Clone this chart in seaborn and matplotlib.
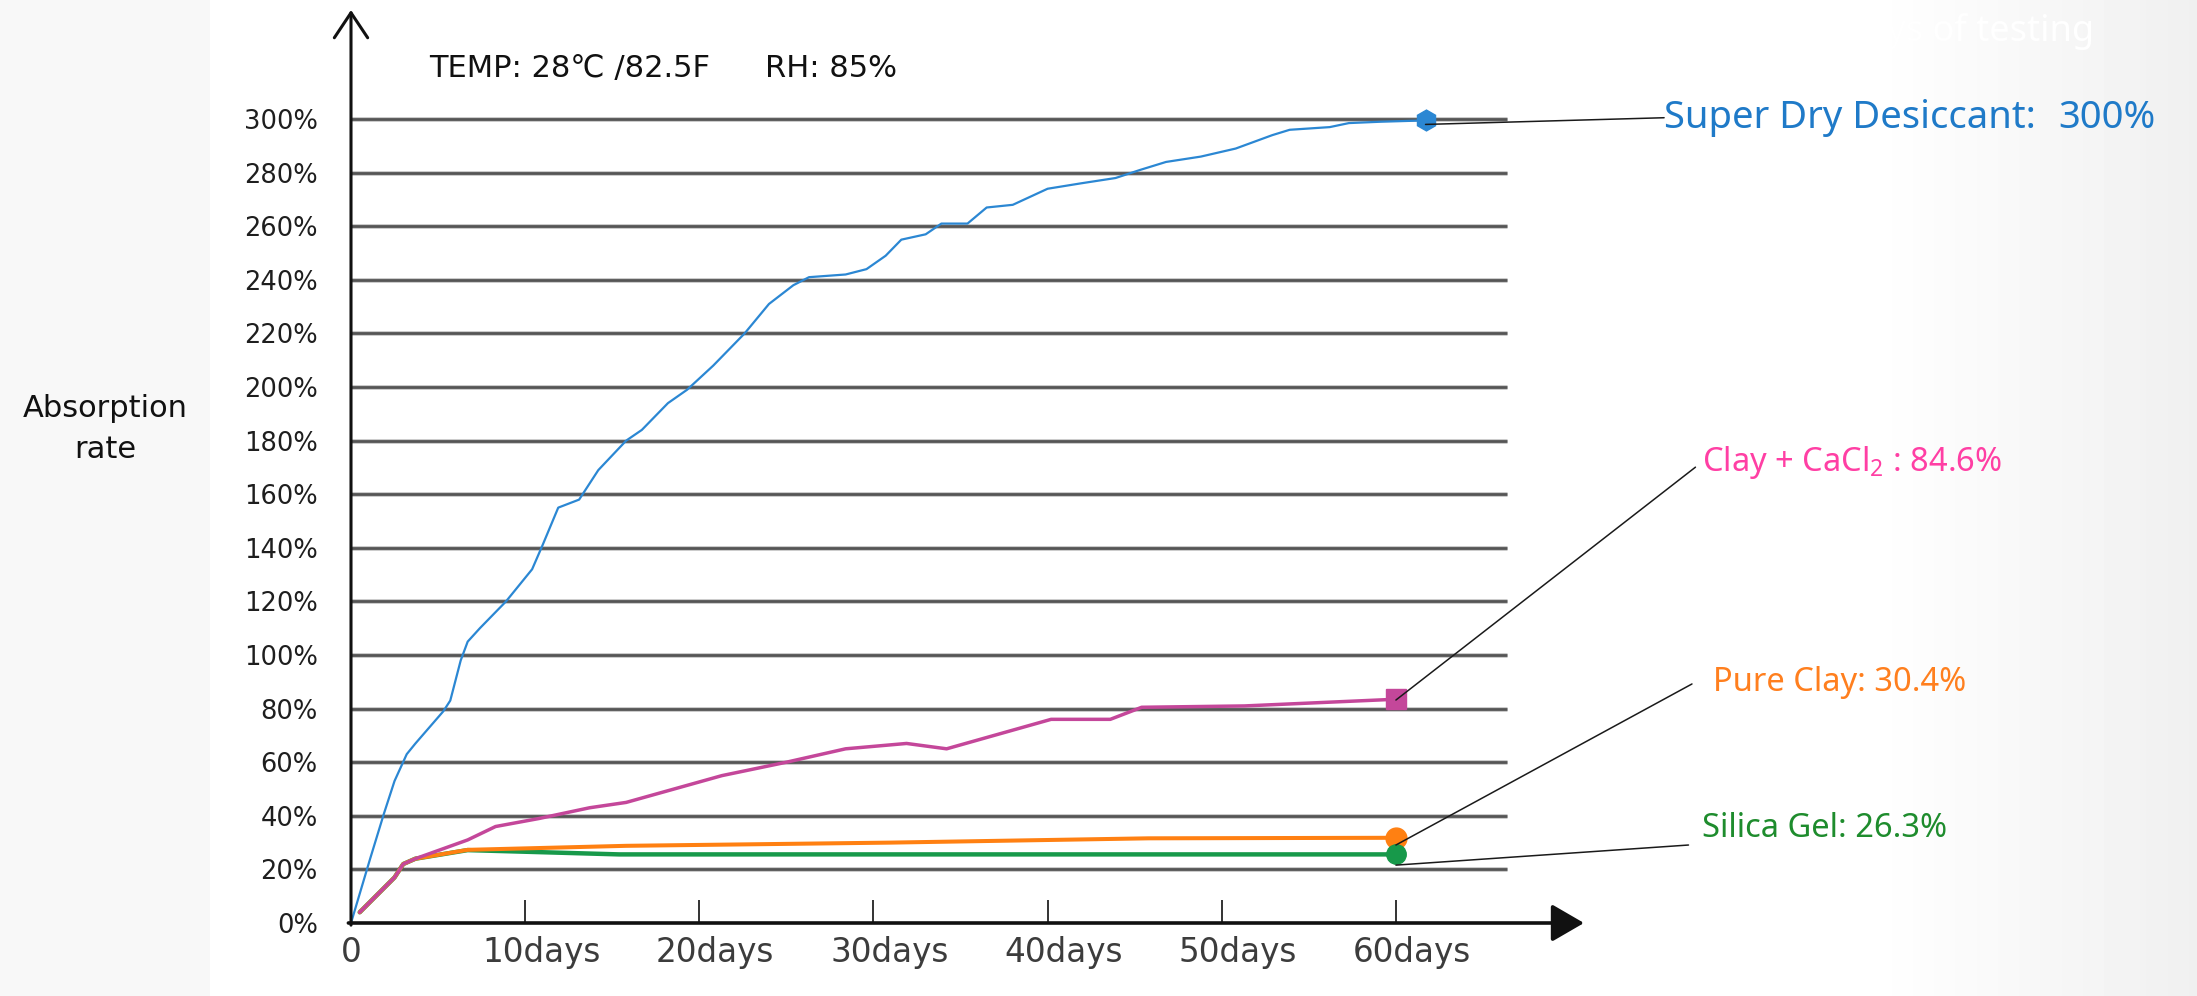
import numpy as np
import matplotlib
matplotlib.use('Agg')
import matplotlib.pyplot as plt
from matplotlib.transforms import ScaledTranslation
import seaborn as sns

sns.set_style('white')
plt.rcParams['font.family'] = ['DejaVu Sans']

# Values (days, absorption %)
super_dry_days = [0, 1.1, 1.9, 2.5, 3.2, 3.7, 5.3, 5.7, 6.3, 6.7, 7.4, 8.9, 10.4, 11.0, 11.9,
                  13.1, 14.2, 15.8, 16.7, 18.2, 19.3, 20.8, 22.6, 24.0, 25.4, 26.3, 28.4, 29.6,
                  30.7, 31.6, 33.0, 33.9, 35.4, 36.5, 38.0, 40.0, 41.9, 43.9, 45.3, 46.8, 48.8,
                  50.8, 52.9, 53.9, 56.2, 57.3, 59.1, 61.7]
super_dry_rate = [0, 24, 41, 53, 63, 67, 79, 83, 98, 105, 110, 120, 132, 141, 155,
                  158, 169, 180, 184, 194, 199, 208, 220, 231, 238, 241, 242, 244,
                  249, 255, 257, 261, 261, 267, 268, 274, 276, 278, 281, 284, 286,
                  289, 294, 296, 297, 298.5, 299, 299.5]

clay_cacl2_days = [0.5, 2.5, 3.0, 3.7, 6.7, 8.3, 10.8, 13.7, 15.8, 21.3, 25.0, 28.4, 31.9,
                   34.2, 40.2, 43.6, 45.4, 51.3, 60.0]
clay_cacl2_rate = [4, 17, 22, 24, 31, 36, 39, 43, 45, 55, 60, 65, 67,
                   65, 76, 76, 80.5, 81, 83.5]

pure_clay_days = [0.5, 2.5, 3.0, 3.7, 6.7, 15.8, 31.0, 45.8, 60.0]
pure_clay_rate = [4, 17, 22, 24, 27.3, 28.8, 30, 31.6, 31.8]

silica_gel_days = [0.5, 2.5, 3.0, 3.7, 6.7, 15.4, 60.0]
silica_gel_rate = [4, 17, 22, 24, 27.2, 25.6, 25.6]

y_ticks = list(range(0, 301, 20))
x_ticks = [0, 10, 20, 30, 40, 50, 60]
x_tick_labels = ['0', '10days', '20days', '30days', '40days', '50days', '60days']

W, H = 2197, 996
fig = plt.figure(figsize=(W / 100, H / 100), dpi=100)

# light grey background bands left and right
bg = fig.add_axes([0, 0, 1, 1], zorder=0)
shade = np.ones(W)
shade[:210] = 0.972
shade[1870:] = np.linspace(1.0, 0.94, W - 1870)
bg.imshow(np.tile(shade, (2, 1)), cmap='gray', vmin=0, vmax=1, extent=[0, 1, 0, 1], aspect='auto')
bg.set_xlim(0, 1)
bg.set_ylim(0, 1)
bg.axis('off')
fig.text(1845 / W, 1 - 32 / H, 'days of testing', color='white', fontsize=26,
         family='Noto Sans', va='center', ha='left')

ax = fig.add_axes([351 / W, 73 / H, 1233 / W, 913 / H], zorder=1)
ax.patch.set_alpha(0)
ax.set_xlim(0, 70.8)
ax.set_ylim(0, 340.7)
for s in ax.spines.values():
    s.set_visible(False)

# horizontal grid lines
ax.hlines(y_ticks[1:], 0, 66.4, color='#cccccc', lw=3.6, zorder=1)
ax.hlines(y_ticks[1:], 0, 66.4, color='#555555', lw=2.0, zorder=1.1)

# axes with arrows
ax.annotate('', xy=(70.8, 0), xytext=(-0.15, 0), annotation_clip=False,
            arrowprops=dict(arrowstyle='-|>,head_length=1.0,head_width=0.58', lw=2.6,
                            color='#111111', mutation_scale=20, shrinkA=0, shrinkB=0), zorder=5)
ax.annotate('', xy=(0, 340.7), xytext=(0, -0.8), annotation_clip=False,
            arrowprops=dict(arrowstyle='->,head_length=0.9,head_width=0.6', lw=2.2,
                            color='#111111', mutation_scale=20, shrinkA=0, shrinkB=0), zorder=5)

# series
blue = '#2b87d3'
pink = '#c4479a'
orange = '#ff8012'
green = '#17994a'
sns.lineplot(x=silica_gel_days, y=silica_gel_rate, color=green, lw=3.2, sort=False, ax=ax, zorder=2)
sns.lineplot(x=pure_clay_days, y=pure_clay_rate, color=orange, lw=2.9, sort=False, ax=ax, zorder=2.1)
sns.lineplot(x=clay_cacl2_days, y=clay_cacl2_rate, color=pink, lw=2.5, sort=False, ax=ax, zorder=2.2)
sns.lineplot(x=super_dry_days, y=super_dry_rate, color=blue, lw=1.6, sort=False, ax=ax, zorder=2.3)

ax.plot(pure_clay_days[-1], pure_clay_rate[-1], marker='o', ms=15, color=orange, zorder=3)
ax.plot(silica_gel_days[-1], silica_gel_rate[-1], marker='o', ms=14, color=green, zorder=3.1)
ax.plot(clay_cacl2_days[-1], clay_cacl2_rate[-1], marker='s', ms=14, color=pink, zorder=3)
ax.plot(super_dry_days[-1], super_dry_rate[-1], marker='h', ms=15, color=blue, zorder=3)

# ticks
ax.set_xticks(x_ticks)
ax.set_xticklabels(x_tick_labels, fontsize=23.5, color='#3c3c3c')
ax.tick_params(axis='x', direction='in', length=16.5, width=1.4, color='#333333', pad=9, bottom=True)
# the "days" labels sit a little right of their tick marks
shift = ScaledTranslation(0.16, 0, fig.dpi_scale_trans)
for lab in ax.get_xticklabels()[1:]:
    lab.set_transform(lab.get_transform() + shift)
ax.set_yticks(y_ticks)
ax.set_yticklabels([f'{v}%' for v in y_ticks], fontsize=18.5, color='#1e1e1e')
ax.tick_params(axis='y', length=0, pad=24, left=False)

ax.text(-14.1, 184.3, 'Absorption\nrate', ha='center', va='center', fontsize=22,
        linespacing=1.55, color='#111111')
ax.text(4.48, 319, 'TEMP: 28℃ /82.5F', fontsize=22, va='center', color='#111111')
ax.text(23.8, 319, 'RH: 85%', fontsize=22, va='center', color='#111111')

# leader lines and labels
lead = dict(color='#1a1a1a', lw=1.1, clip_on=False, zorder=6)
ax.plot([super_dry_days[-1], 75.4], [298, 300.5], **lead)
ax.plot([clay_cacl2_days[-1], 77.2], [83.2, 170.1], **lead)
ax.plot([pure_clay_days[-1], 77.0], [29.1, 89.2], **lead)
ax.plot([silica_gel_days[-1], 76.8], [21.6, 29.1], **lead)

ax.text(75.4, 300.4, 'Super Dry Desiccant:', color='#1f7ac8', fontsize=27.5,
        family='Noto Sans', va='center', ha='left')
ax.text(98.05, 300.4, '300%', color='#1f7ac8', fontsize=27.5, fontweight='bold',
        family='Noto Sans', va='center', ha='left')
ax.text(77.6, 172, r'Clay + CaCl$_\mathregular{2}$ : 84.6%', color='#ff3fa4', fontsize=23.5,
        family='Noto Sans', va='center', ha='left')
ax.text(78.2, 89.6, 'Pure Clay: 30.4%', color='#ff7f1e', fontsize=23.5,
        family='Noto Sans', va='center', ha='left')
ax.text(77.6, 35.4, 'Silica Gel: 26.3%', color='#1e8c2d', fontsize=23.5,
        family='Noto Sans', va='center', ha='left')

fig.savefig('out.png', dpi=100)
